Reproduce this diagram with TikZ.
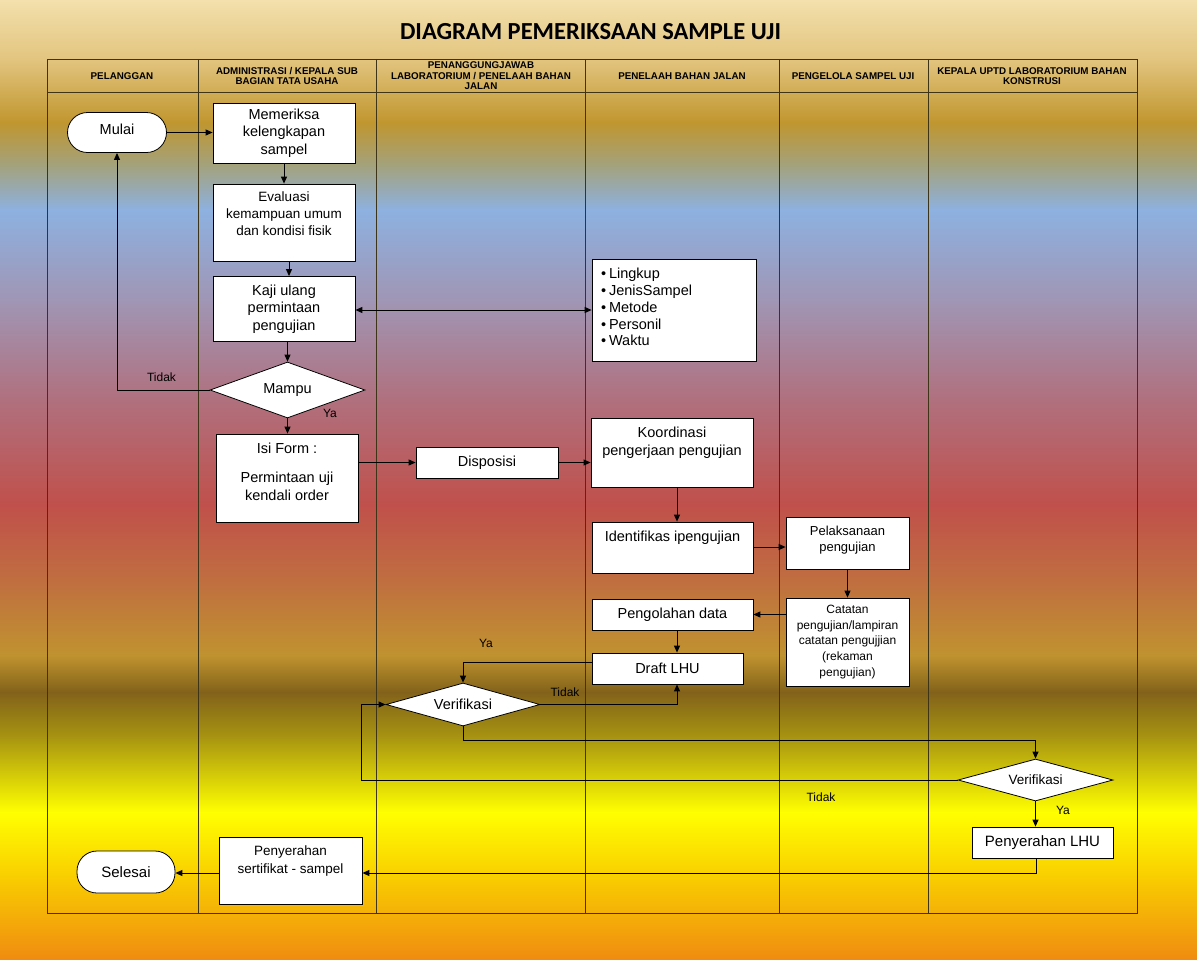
\documentclass[tikz,border=0pt]{standalone}
\usepackage{fontspec}
\setmainfont{Liberation Sans}
\newfontfamily\titlefont{Carlito}
\usetikzlibrary{shapes.geometric,arrows.meta,calc}
\definecolor{g00}{HTML}{F3E0AC}
\definecolor{g01}{HTML}{E2C47E}
\definecolor{g02}{HTML}{C0962E}
\definecolor{g03}{HTML}{A3A27C}
\definecolor{g04}{HTML}{8DB1E0}
\definecolor{g05}{HTML}{A194B2}
\definecolor{g06}{HTML}{B0707E}
\definecolor{g07}{HTML}{C0504B}
\definecolor{g08}{HTML}{C06E40}
\definecolor{g09}{HTML}{C0932F}
\definecolor{g10}{HTML}{82621A}
\definecolor{g11}{HTML}{A69211}
\definecolor{g12}{HTML}{FFFF00}
\definecolor{g13}{HTML}{F9CF00}
\definecolor{g14}{HTML}{F08C10}
\definecolor{lanecol}{HTML}{3E3418}
\begin{document}
\begin{tikzpicture}[x=1pt,y=-1pt,
  box/.style={draw=black, fill=white, line width=0.8pt, inner sep=2pt, align=center,
    font=\fontsize{14.5}{17.5}\selectfont},
  term/.style={box, rounded corners=20pt},
  dec/.style={draw=black, fill=white, line width=0.8pt, diamond, shape aspect=2.8, inner sep=0pt,
    font=\fontsize{14.5}{17.5}\selectfont},
  arr/.style={line width=1pt, -{Triangle[length=7pt,width=6pt]}},
  lab/.style={font=\fontsize{12}{14}\selectfont, inner sep=0pt},
  hdr/.style={font=\fontsize{9.8}{10.6}\selectfont\bfseries, align=center, inner sep=0pt},
  lane/.style={draw=lanecol, line width=0.9pt}]
\useasboundingbox (0,0) rectangle (1197,959);
% background gradient
\shade[top color=g00,bottom color=g01] (0,0) rectangle (1197,60.5);
\shade[top color=g01,bottom color=g02] (0,60) rectangle (1197,122.5);
\shade[top color=g02,bottom color=g03] (0,122) rectangle (1197,165.5);
\shade[top color=g03,bottom color=g04] (0,165) rectangle (1197,210.5);
\shade[top color=g04,bottom color=g05] (0,210) rectangle (1197,305.5);
\shade[top color=g05,bottom color=g06] (0,305) rectangle (1197,400.5);
\shade[top color=g06,bottom color=g07] (0,400) rectangle (1197,505.5);
\shade[top color=g07,bottom color=g08] (0,505) rectangle (1197,580.5);
\shade[top color=g08,bottom color=g09] (0,580) rectangle (1197,655.5);
\shade[top color=g09,bottom color=g10] (0,655) rectangle (1197,692.5);
\shade[top color=g10,bottom color=g11] (0,692) rectangle (1197,735.5);
\shade[top color=g11,bottom color=g12] (0,735) rectangle (1197,812.5);
\shade[top color=g12,bottom color=g13] (0,812) rectangle (1197,875.5);
\shade[top color=g13,bottom color=g14] (0,875) rectangle (1197,959);
% title
\node[font=\titlefont\fontsize{24.5}{28}\selectfont\bfseries] (title) at (590.5,31.5) {DIAGRAM PEMERIKSAAN SAMPLE UJI};
% swimlanes
\draw[lane] (47,59) rectangle (1137,913);
\draw[lane] (47,92) -- (1137,92);
\foreach \x in {198,376,585,779,928} \draw[lane] (\x,59) -- (\x,913);
\node[hdr] (h1) at (122,76) {PELANGGAN};
\node[hdr] (h2) at (287,76) {ADMINISTRASI / KEPALA SUB\\BAGIAN TATA USAHA};
\node[hdr] (h3) at (481,76) {PENANGGUNGJAWAB\\LABORATORIUM / PENELAAH BAHAN\\JALAN};
\node[hdr] (h4) at (682,76) {PENELAAH BAHAN JALAN};
\node[hdr] (h5) at (853,76) {PENGELOLA SAMPEL UJI};
\node[hdr] (h6) at (1032,76) {KEPALA UPTD LABORATORIUM BAHAN\\KONSTRUSI};
% nodes
\node[term, minimum width=99pt, minimum height=40pt] (mulai) at (117,132.5) {Mulai\\[-11.5pt]~};
\node[box, minimum width=142pt, minimum height=60pt] (mem) at (284,133) {Memeriksa\\kelengkapan\\sampel};
\node[box, minimum width=142pt, minimum height=77pt, font=\fontsize{13.5}{17}\selectfont] (eval) at (284,222.5) {Evaluasi\\kemampuan umum\\dan kondisi fisik\\~};
\node[box, minimum width=142pt, minimum height=65pt] (kaji) at (284,309) {Kaji ulang\\permintaan\\pengujian};
\node[dec, minimum width=155pt, minimum height=56pt] (mampu) at (287.5,390) {Mampu};
\node[box, minimum width=142pt, minimum height=88pt] (isi) at (287,478) {Isi Form :\\[12pt]Permintaan uji\\kendali order\\[-4pt]~};
\node[box, minimum width=142pt, minimum height=31pt] (disp) at (487,462.5) {Disposisi};
\node[box, minimum width=164pt, minimum height=102pt, inner xsep=9pt, text width=146pt, align=left,
  font=\fontsize{14.5}{16.8}\selectfont] (bul) at (674,310)
  {\textbullet\hspace{3pt}Lingkup\\\textbullet\hspace{3pt}JenisSampel\\\textbullet\hspace{3pt}Metode\\\textbullet\hspace{3pt}Personil\\\textbullet\hspace{3pt}Waktu\\[-11pt]~};
\node[box, minimum width=162pt, minimum height=69pt] (koor) at (672,452.5) {Koordinasi\\pengerjaan pengujian\\[5pt]~};
\node[box, minimum width=161pt, minimum height=51pt] (iden) at (672.5,547.5) {Identifikas ipengujian\\[5.5pt]~};
\node[box, minimum width=123pt, minimum height=52pt, font=\fontsize{13}{16}\selectfont] (pel) at (847.5,543) {Pelaksanaan\\pengujian\\[-8pt]~};
\node[box, minimum width=123pt, minimum height=88pt, font=\fontsize{12}{15.6}\selectfont] (cat) at (847.5,642) {Catatan\\pengujian/lampiran\\catatan pengujjian\\(rekaman\\pengujian)\\[-13pt]~};
\node[box, minimum width=161pt, minimum height=31pt] (peng) at (672.5,614.5) {Pengolahan data};
\node[box, minimum width=151pt, minimum height=31pt] (draft) at (667.5,668.5) {Draft LHU};
\node[dec, minimum width=154pt, minimum height=43pt] (ver1) at (463,704.5) {Verifikasi};
\node[dec, minimum width=155pt, minimum height=42pt, font=\fontsize{13.5}{16}\selectfont] (ver2) at (1035.5,780) {Verifikasi};
\node[box, minimum width=141pt, minimum height=31pt, font=\fontsize{15}{18}\selectfont] (plhu) at (1042.5,842.5) {Penyerahan LHU};
\node[box, minimum width=143pt, minimum height=67pt, font=\fontsize{13.5}{18}\selectfont] (pser) at (290.5,870.5) {Penyerahan\\sertifikat - sampel\\[4pt]~};
\node[term, minimum width=98pt, minimum height=42pt, font=\fontsize{15}{18}\selectfont] (sel) at (126,872) {Selesai};
% labels
\node[lab] (l1) at (161.5,377) {Tidak};
\node[lab] (l2) at (330,413) {Ya};
\node[lab] (l3) at (486,643) {Ya};
\node[lab] (l4) at (565,692) {Tidak};
\node[lab] (l5) at (821,797) {Tidak};
\node[lab] (l6) at (1063,810) {Ya};
% helper coordinates
\coordinate (c677) at (677,0);
\coordinate (c361) at (361,0);
\coordinate (c740) at (0,740);
\coordinate (c1036) at (1036.5,0);
% connectors
\draw[arr] (mulai.east) -- (mulai.east -| mem.west);
\draw[arr] (mem) -- (eval);
\draw[arr] ([xshift=5pt]eval.south) -- ([xshift=5pt]kaji.north);
\draw[line width=1pt, {Triangle[length=7pt,width=6pt]}-{Triangle[length=7pt,width=6pt]}] (kaji.east |- bul.west) -- (bul.west);
\draw[arr] (kaji.south -| mampu.north) -- (mampu.north);
\draw[arr] (mampu.west) -| (mulai.south);
\draw[arr] (mampu.south) -- (mampu.south |- isi.north);
\draw[arr] (isi.east |- disp.west) -- (disp.west);
\draw[arr] (disp.east) -- (disp.east -| koor.west);
\draw[arr] (koor.south -| c677) -- (iden.north -| c677);
\draw[arr] ([yshift=0.5pt]iden.east) -- ([yshift=0.5pt]iden.east -| pel.west);
\draw[arr] (pel) -- (cat);
\draw[arr] (cat.west |- peng.east) -- (peng.east);
\draw[arr] (peng.south -| c677) -- (draft.north -| c677);
\draw[arr] ([yshift=6.5pt]draft.west) -| (ver1.north);
\draw[arr] (ver1.east) -| (draft.south -| c677);
\draw[arr] (ver1.south) -- (ver1.south |- c740) -| (ver2.north);
\draw[arr] (ver2.west) -- (ver2.west -| c361) |- (ver1.west);
\draw[arr] (ver2.south) -- (ver2.south |- plhu.north);
\draw[arr] (plhu.south -| c1036) |- ([yshift=-2.5pt]pser.east);
\draw[arr] ([yshift=-2.5pt]pser.west) -- ([yshift=-2.5pt]pser.west -| sel.east);
\end{tikzpicture}
\end{document}
